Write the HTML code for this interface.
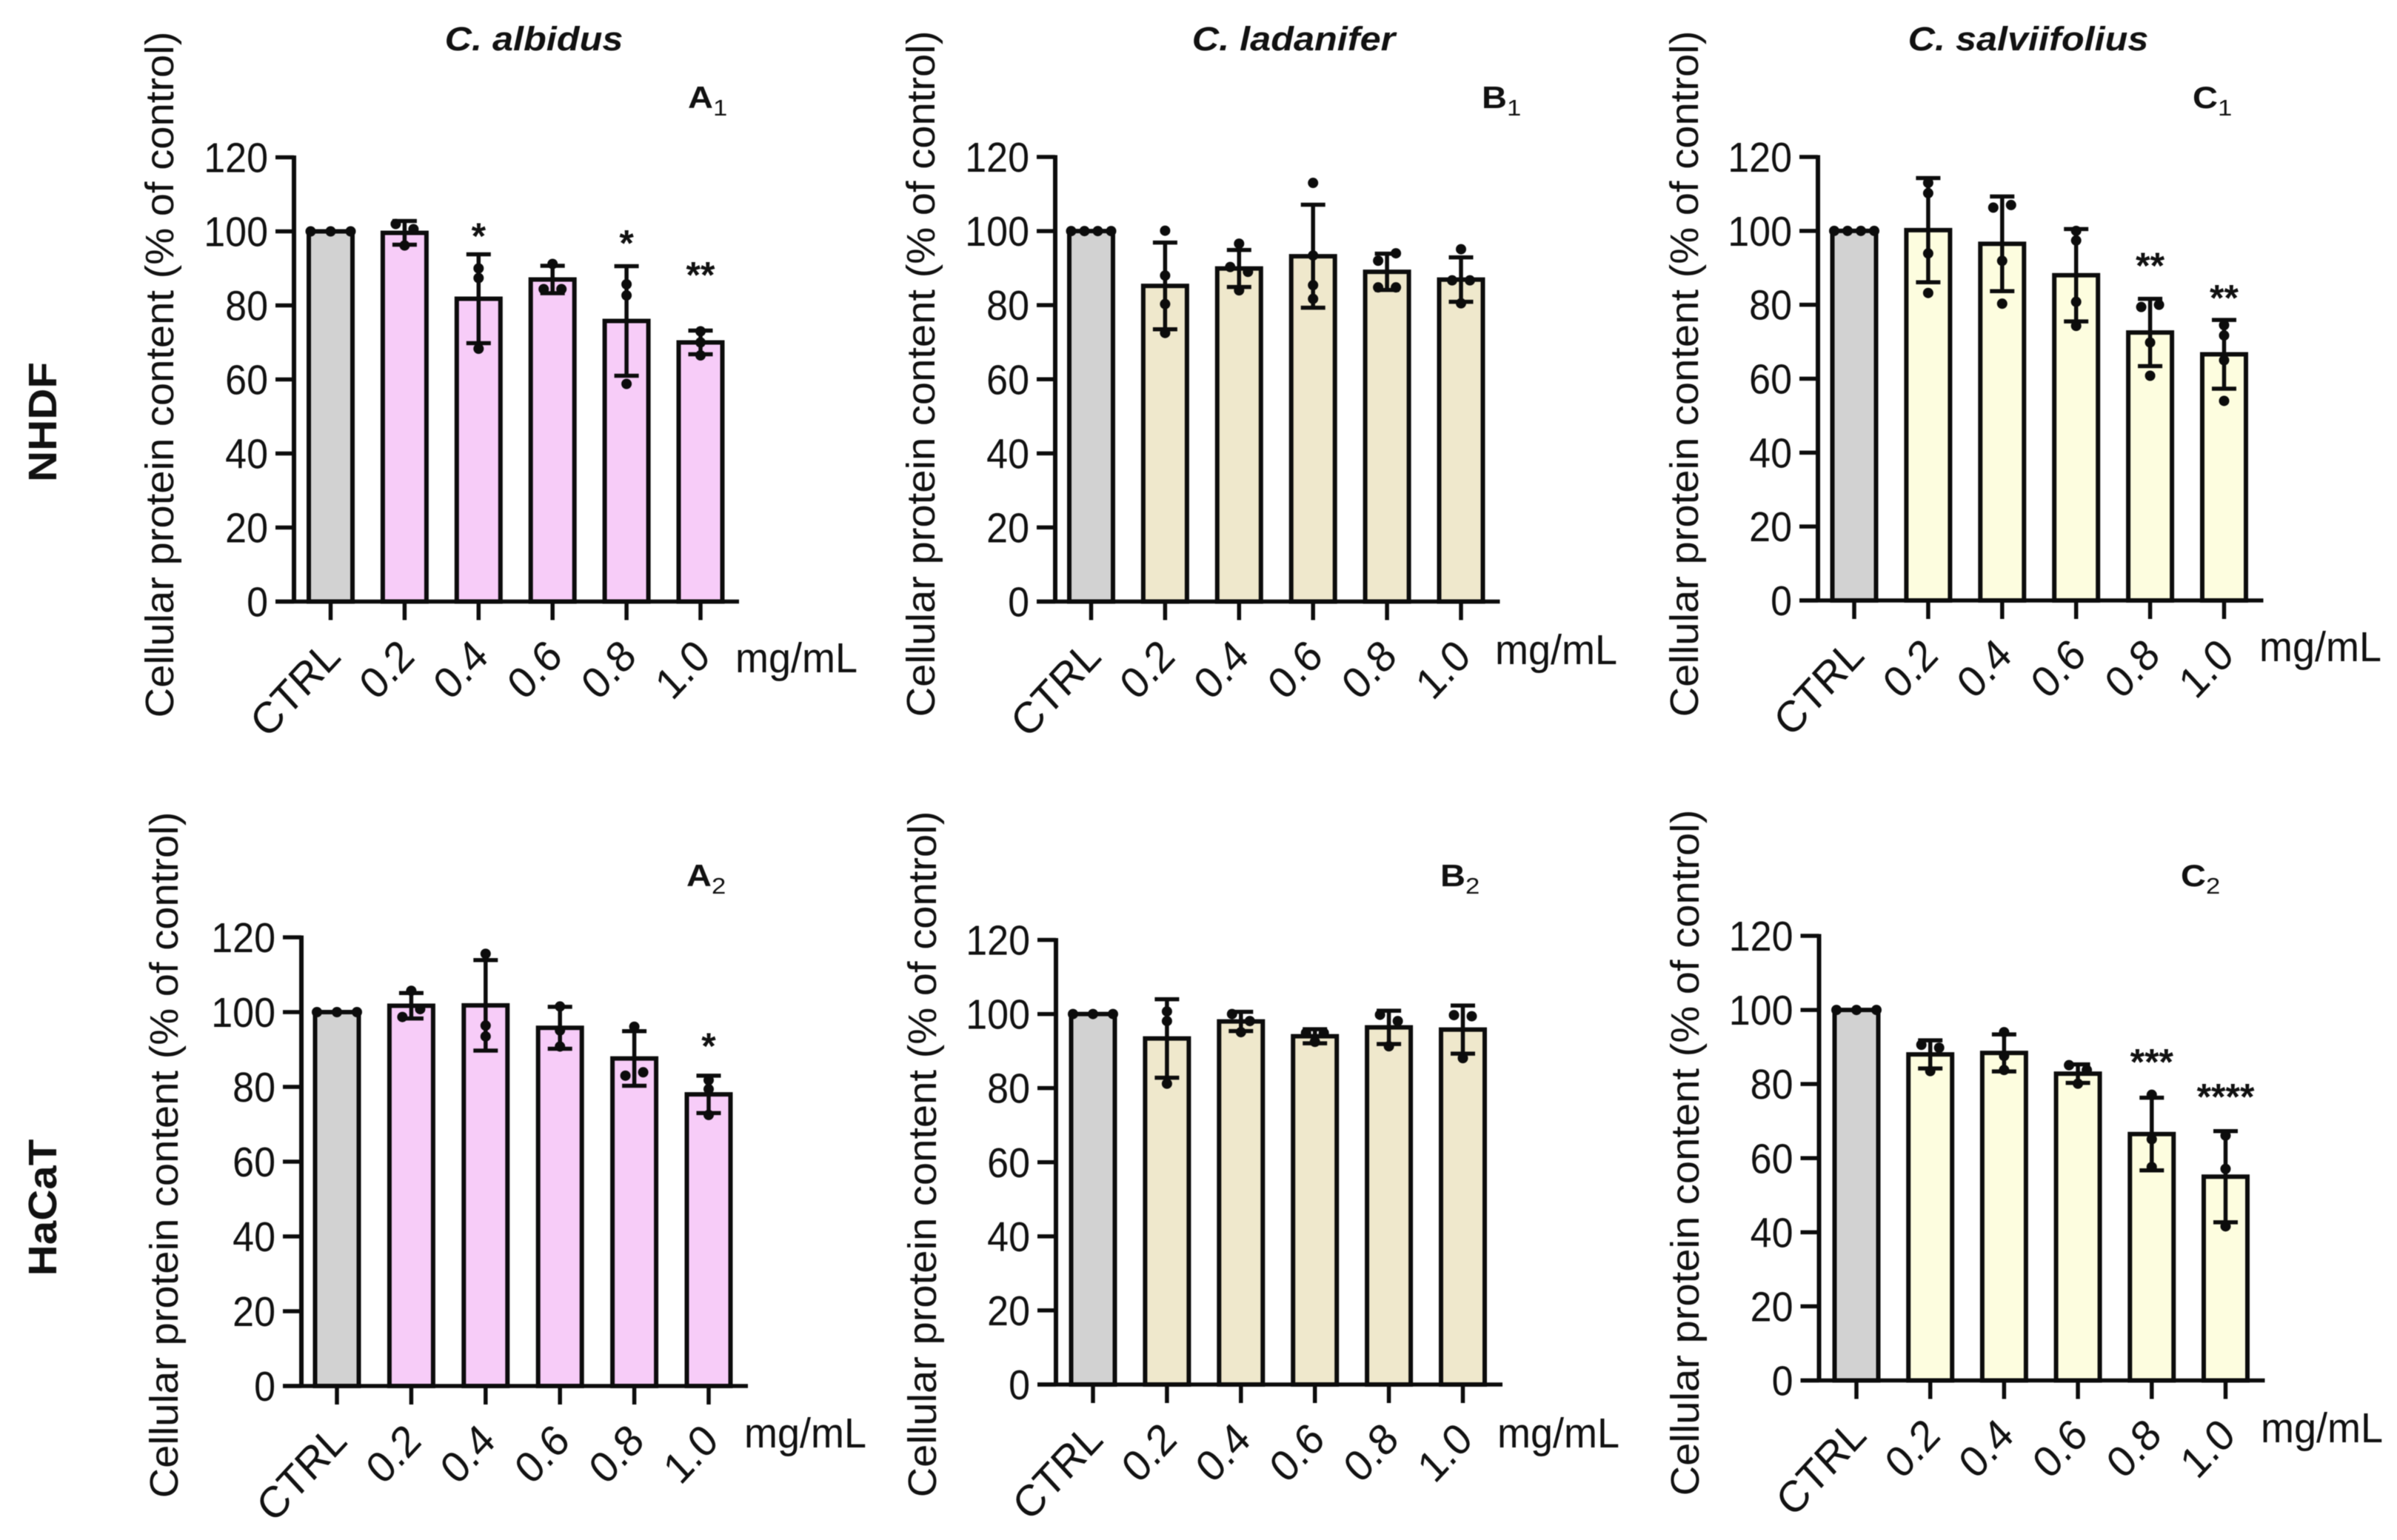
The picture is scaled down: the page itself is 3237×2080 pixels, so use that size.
<!DOCTYPE html>
<html lang="en">
<head>
<meta charset="utf-8">
<title>Cellular protein content of NHDF and HaCaT cells</title>
<style>
html,body{margin:0;padding:0;background:#fff}
svg{display:block;font-family:"Liberation Sans",Arial,sans-serif;fill:#111;filter:blur(.6px)}
.ytitle{font-size:54px;text-anchor:middle}
.title{font-size:45px;font-weight:bold;font-style:italic;text-anchor:middle}
.row{font-size:54px;font-weight:bold;text-anchor:middle}
.plabel{font-size:42px;font-weight:bold}
.plabel tspan{font-size:31px;font-weight:normal}
.unit{font-size:54px}
.tick{font-size:52px}
.xtick{font-size:55px}
.star{font-size:50px;font-weight:bold;text-anchor:middle}
</style>
</head>
<body>
<svg id="figure" xmlns="http://www.w3.org/2000/svg" width="3237" height="2080" viewBox="0 0 3237 2080">
  <rect x="0" y="0" width="3237" height="2080" fill="#fff"/>

  <text class="title" transform="translate(721,68) scale(1.12,1)">C. albidus</text>
  <text class="title" transform="translate(1747,68) scale(1.12,1)">C. ladanifer</text>
  <text class="title" transform="translate(2739,68) scale(1.12,1)">C. salviifolius</text>

  <text class="row" transform="translate(76,570) scale(1,1.08) rotate(-90)">NHDF</text>
  <text class="row" transform="translate(76,1631) scale(1,1.08) rotate(-90)">HaCaT</text>

  <text class="plabel" transform="translate(929,146) scale(1.12,1)">A<tspan dy="10">1</tspan></text>
  <text class="plabel" transform="translate(2001,146) scale(1.12,1)">B<tspan dy="10">1</tspan></text>
  <text class="plabel" transform="translate(2961,146) scale(1.12,1)">C<tspan dy="10">1</tspan></text>
  <text class="plabel" transform="translate(927,1197) scale(1.12,1)">A<tspan dy="10">2</tspan></text>
  <text class="plabel" transform="translate(1945,1197) scale(1.12,1)">B<tspan dy="10">2</tspan></text>
  <text class="plabel" transform="translate(2945,1197) scale(1.12,1)">C<tspan dy="10">2</tspan></text>

  <text class="ytitle" transform="translate(234,506) scale(1,1.04) rotate(-90)">Cellular protein content (% of control)</text>
  <text class="ytitle" transform="translate(1262,505) scale(1,1.04) rotate(-90)">Cellular protein content (% of control)</text>
  <text class="ytitle" transform="translate(2293,505) scale(1,1.04) rotate(-90)">Cellular protein content (% of control)</text>
  <text class="ytitle" transform="translate(240,1560) scale(1,1.04) rotate(-90)">Cellular protein content (% of control)</text>
  <text class="ytitle" transform="translate(1264,1559) scale(1,1.04) rotate(-90)">Cellular protein content (% of control)</text>
  <text class="ytitle" transform="translate(2294,1557) scale(1,1.04) rotate(-90)">Cellular protein content (% of control)</text>

  <text class="unit" transform="translate(993,908) scale(1,1.05)">mg/mL</text>
  <text class="unit" transform="translate(2019,897) scale(1,1.05)">mg/mL</text>
  <text class="unit" transform="translate(3051,893) scale(1,1.05)">mg/mL</text>
  <text class="unit" transform="translate(1005,1955) scale(1,1.05)">mg/mL</text>
  <text class="unit" transform="translate(2022,1955) scale(1,1.05)">mg/mL</text>
  <text class="unit" transform="translate(3053,1948) scale(1,1.05)">mg/mL</text>
</svg>

<script>
// ---- shared labels ----
const categories = ['CTRL', '0.2', '0.4', '0.6', '0.8', '1.0'];
const yTicks = [0, 20, 40, 60, 80, 100, 120];

// ---- A1: C. albidus, NHDF ----
const a1Means = [100, 99.6, 81.8, 87, 75.8, 70];
const a1Sd = [0, 3.2, 12, 3.7, 14.8, 3.2];
const a1Points = [[100, 100, 100], [102, 100.6, 96.2], [90, 87.4, 68.3], [91.2, 84.4, 84.4], [85.7, 82.7, 58.8], [73, 70, 66.5]];
const a1Stars = ['', '', '*', '', '*', '**'];
const a1StarLevels = [0, 0, 99.7, 0, 97.8, 89.2];

// ---- B1: C. ladanifer, NHDF ----
const b1Means = [100, 85.2, 89.9, 93.2, 89, 86.9];
const b1Sd = [0, 11.7, 5, 13.9, 4.9, 6];
const b1Points = [[100, 100, 100, 100], [100.1, 88, 80.3, 72.5], [96.6, 90.3, 89, 84], [113, 93.4, 85.4, 81.7], [92, 94, 84.8, 84.8], [95.1, 86.7, 86.7, 80.5]];
const b1Stars = ['', '', '', '', '', ''];
const b1StarLevels = [0, 0, 0, 0, 0, 0];

// ---- C1: C. salviifolius, NHDF ----
const c1Means = [100, 100.2, 96.5, 88, 72.5, 66.6];
const c1Sd = [0, 14.1, 12.8, 12.5, 9.1, 9.3];
const c1Points = [[100, 100, 100, 100], [113, 110.2, 93.9, 83.2], [106.3, 107, 91.9, 80.3], [100, 97.4, 80.8, 74.3], [79.4, 80, 69.8, 60.8], [74.5, 71.7, 65, 54]];
const c1Stars = ['', '', '', '', '**', '**'];
const c1StarLevels = [0, 0, 0, 0, 91.6, 82.8];

// ---- A2: C. albidus, HaCaT ----
const a2Means = [100, 101.7, 101.8, 95.8, 87.6, 78];
const a2Sd = [0, 3.4, 12.1, 5.6, 7.3, 5];
const a2Points = [[100, 100, 100], [105.7, 98.7, 100.8], [115.6, 96.4, 93.5], [101.5, 95.1, 90.8], [96.1, 83, 83.9], [81.8, 79.4, 72.5]];
const a2Stars = ['', '', '', '', '', '*'];
const a2StarLevels = [0, 0, 0, 0, 0, 91.9];

// ---- B2: C. ladanifer, HaCaT ----
const b2Means = [100, 93.4, 98, 94, 96.4, 95.8];
const b2Sd = [0, 10.6, 2.6, 1.9, 4.5, 6.5];
const b2Points = [[100, 100, 100], [100.7, 98.1, 81.2], [100, 98.1, 95.1], [94.9, 94.9, 92.5], [99.8, 98.1, 91.3], [99.7, 99.4, 88.1]];
const b2Stars = ['', '', '', '', '', ''];
const b2StarLevels = [0, 0, 0, 0, 0, 0];

// ---- C2: C. salviifolius, HaCaT ----
const c2Means = [100, 88, 88.4, 82.8, 66.5, 55];
const c2Sd = [0, 3.8, 5, 2.5, 9.8, 12.3];
const c2Points = [[100, 100, 100], [90.6, 89.8, 83.5], [94, 87.6, 83.8], [85.1, 83.8, 80.1], [77.1, 65.1, 57.6], [66.1, 57.1, 41.6]];
const c2Stars = ['', '', '', '', '***', '****'];
const c2StarLevels = [0, 0, 0, 0, 86.9, 77.5];

// ---- panel frames (layout only) ----
const frames = [
  {id:'a1', means:a1Means, sd:a1Sd, pts:a1Points, stars:a1Stars, lv:a1StarLevels, fill:'#f7ccf8', axis:397, first:446.5, last:946, right:998, top:212.5, base:812.5, bw:59, cap:33},
  {id:'b1', means:b1Means, sd:b1Sd, pts:b1Points, stars:b1Stars, lv:b1StarLevels, fill:'#efe8cc', axis:1425, first:1473.5, last:1973, right:2025.5, top:212, base:812.5, bw:59, cap:33},
  {id:'c1', means:c1Means, sd:c1Sd, pts:c1Points, stars:c1Stars, lv:c1StarLevels, fill:'#fdfddf', axis:2455, first:2504, last:3003.5, right:3056.5, top:212, base:811, bw:59, cap:33},
  {id:'a2', means:a2Means, sd:a2Sd, pts:a2Points, stars:a2Stars, lv:a2StarLevels, fill:'#f7ccf8', axis:407, first:455, last:957, right:1010, top:1266, base:1872, bw:59, cap:33},
  {id:'b2', means:b2Means, sd:b2Sd, pts:b2Points, stars:b2Stars, lv:b2StarLevels, fill:'#efe8cc', axis:1426, first:1476, last:1975.5, right:2029, top:1269.5, base:1870, bw:59, cap:33},
  {id:'c2', means:c2Means, sd:c2Sd, pts:c2Points, stars:c2Stars, lv:c2StarLevels, fill:'#fdfddf', axis:2456.5, first:2507, last:3005.5, right:3058.5, top:1264, base:1864.5, bw:59, cap:33}
];

const NS = 'http://www.w3.org/2000/svg';
const svg = document.getElementById('figure');

function make(parent, tag, props) {
  const el = document.createElementNS(NS, tag);
  for (const k in props) el.setAttribute(k, props[k]);
  parent.appendChild(el);
  return el;
}

// Spreads near-equal values sideways, as a swarm plot does.
function swarm(values) {
  const out = [];
  let i = 0;
  while (i < values.length) {
    let j = i + 1;
    while (j < values.length && Math.abs(values[j] - values[j - 1]) < 2.3) j++;
    const n = j - i;
    const gap = n === 2 ? 24 : n === 3 ? 27 : 18;
    for (let k = 0; k < n; k++) out.push({v: values[i + k], dx: (k - (n - 1) / 2) * gap});
    i = j;
  }
  return out;
}

frames.forEach(function (f) {
  const g = make(svg, 'g', {});
  
  

  const scaleY = function (v) { return f.base - v * (f.base - f.top) / 120; };
  const scaleX = function (i) { return f.first + i * (f.last - f.first) / (categories.length - 1); };
  const black = '#0c0c0c';

  categories.forEach(function (cat, i) {
    const x = scaleX(i);
    const yv = scaleY(f.means[i]);

    const bar = make(g, 'rect', {x: x - f.bw / 2, y: yv, width: f.bw, height: f.base - yv, fill: i === 0 ? '#d2d2d2' : f.fill, stroke: black, 'stroke-width': 6});
    
    

    if (f.sd[i] > 0) {
      const yHi = scaleY(f.means[i] + f.sd[i]);
      const yLo = scaleY(f.means[i] - f.sd[i]);
      const stem = make(g, 'path', {d: 'M' + (x - f.cap / 2) + ' ' + yHi + 'H' + (x + f.cap / 2) + 'M' + x + ' ' + yHi + 'V' + yLo + 'M' + (x - f.cap / 2) + ' ' + yLo + 'H' + (x + f.cap / 2), fill: 'none', stroke: black, 'stroke-width': 5.5});
      
      
    }

    swarm(f.pts[i]).forEach(function (p) {
      const dot = make(g, 'circle', {cx: x + p.dx, cy: scaleY(p.v), r: 7, fill: black});
      
      
    });

    if (f.stars[i]) {
      const star = make(g, 'text', {class: 'star', x: x, y: scaleY(f.lv[i]) + 22});
      
      
      star.textContent = f.stars[i];
    }

    const tick = make(g, 'line', {x1: x, x2: x, y1: f.base, y2: f.base + 25, stroke: black, 'stroke-width': 5.5});
    
    

    const label = make(g, 'text', {class: 'xtick', 'text-anchor': 'end', transform: 'translate(' + (x + 16) + ',' + (f.base + 77) + ') scale(1,1.08) rotate(-45)'});
    
    
    label.textContent = cat;
  });

  yTicks.forEach(function (t) {
    const y = scaleY(t);
    const tick = make(g, 'line', {x1: f.axis - 25, x2: f.axis, y1: y, y2: y, stroke: black, 'stroke-width': 5.5});
    
    

    const label = make(g, 'text', {class: 'tick', 'text-anchor': 'end', transform: 'translate(' + (f.axis - 35) + ',' + (y + 20) + ') scale(1,1.08)'});
    
    
    label.textContent = t;
  });

  const yAxis = make(g, 'line', {x1: f.axis, x2: f.axis, y1: f.top - 2.5, y2: f.base + 2.5, stroke: black, 'stroke-width': 6});
  
  

  const xAxis = make(g, 'line', {x1: f.axis - 25, x2: f.right, y1: f.base, y2: f.base, stroke: black, 'stroke-width': 5.5});
  
  
});
</script>
</body>
</html>
